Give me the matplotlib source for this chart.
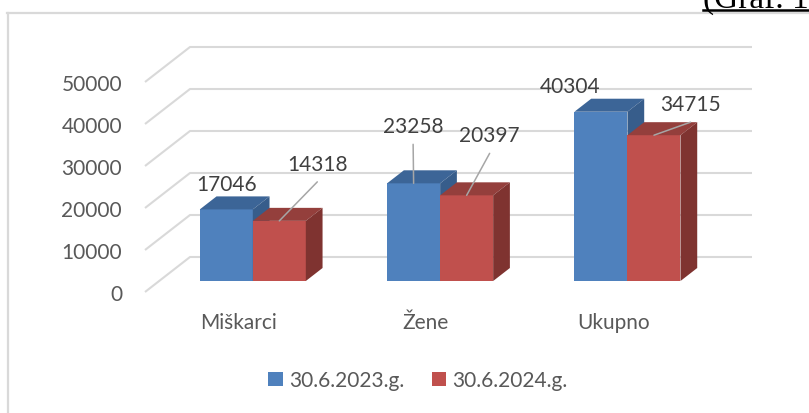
import matplotlib
matplotlib.use("Agg")
import matplotlib.pyplot as plt
from matplotlib.patches import Patch
from matplotlib.lines import Line2D

# ---- data ----
categories = ["Miškarci", "Žene", "Ukupno"]
series_names = ["30.6.2023.g.", "30.6.2024.g."]
values_2023 = [17046, 23258, 40304]
values_2024 = [14318, 20397, 34715]
y_ticks = [0, 10000, 20000, 30000, 40000, 50000]

# ---- styles ----
W, H = 809, 414
FONT = "Lato"
FS = 15
TICK_COL = "#595959"
LABEL_COL = "#404040"
GRID_COL = "#d9d9d9"
face_cols = {
    0: ("#4f81bd", "#3c6597", "#375d8b"),   # front, top, side
    1: ("#c0504d", "#943f3c", "#7f3330"),
}

fig = plt.figure(figsize=(W / 100, H / 100), dpi=100)
# axes = front plane of the floor (pixels 145..707 x, 293..83 y)
ax_l, ax_r, ax_t, ax_b = 145, 707, 83, 293
ax = fig.add_axes([ax_l / W, (H - ax_b) / H, (ax_r - ax_l) / W, (ax_b - ax_t) / H])
ncat = len(categories)
vmax = y_ticks[-1]
ax.set_xlim(0, ncat)
ax.set_ylim(0, vmax)
for s in ax.spines.values():
    s.set_visible(False)

px_x = (ax_r - ax_l) / ncat       # pixels per category unit
px_y = (ax_b - ax_t) / vmax       # pixels per value unit
DXd = 45 / px_x                   # full depth offset in data units
DYd = 35 / px_y
t1, t2 = 0.314, 0.686             # bar front / back depth fraction
bw = 0.283                        # bar width (category units)

def P(x, v, t):
    return (x + t * DXd, v + t * DYd)

# gridlines (side wall diagonal + back wall)
for v in y_ticks:
    a = P(0, v, 0); b = P(0, v, 1); c = P(ncat, v, 1)
    ax.plot([a[0], b[0], c[0]], [a[1], b[1], c[1]], color=GRID_COL, lw=1.5,
            clip_on=False, zorder=1, solid_capstyle="butt")

# bars
tops = {}
for i in range(ncat):
    for s, vals in enumerate([values_2023, values_2024]):
        v = vals[i]
        x0 = i + 0.5 - bw + s * bw
        x1 = x0 + bw
        fc, tc, sc = face_cols[s]
        z = 3 + i * 2 + s
        ax.bar(x0 + t1 * DXd, v, width=bw, bottom=t1 * DYd, align="edge",
               color=fc, edgecolor="none", zorder=z, clip_on=False)
        top = [P(x0, v, t1), P(x1, v, t1), P(x1, v, t2), P(x0, v, t2)]
        side = [P(x1, 0, t1), P(x1, v, t1), P(x1, v, t2), P(x1, 0, t2)]
        ax.fill([p[0] for p in top], [p[1] for p in top], color=tc, lw=0, zorder=z, clip_on=False)
        ax.fill([p[0] for p in side], [p[1] for p in side], color=sc, lw=0, zorder=z, clip_on=False)
        tops[(s, i)] = P((x0 + x1) / 2, v, t1)

# value labels: offsets in pixels from bar front-top centre, leader flag
label_offsets = {
    (0, 0): (0.5, 25, False), (1, 0): (38, 57, True),
    (0, 1): (-0.5, 57, True), (1, 1): (23, 60, True),
    (0, 2): (-30.5, 26, False), (1, 2): (36.5, 31, True),
}
for s, vals in enumerate([values_2023, values_2024]):
    for i, v in enumerate(vals):
        dx, dy, lead = label_offsets[(s, i)]
        xy = tops[(s, i)]
        ax.annotate(f"{v}", xy=xy, xytext=(dx, dy), textcoords="offset pixels",
                    ha="center", va="center", fontsize=FS, family=FONT,
                    color=LABEL_COL, zorder=20, annotation_clip=False)
        if lead:
            ax.annotate("", xy=xy, xytext=(dx, dy - 18), textcoords="offset pixels",
                        arrowprops=dict(arrowstyle="-", color="#a6a6a6", lw=1.1,
                                        shrinkA=0, shrinkB=0),
                        zorder=20, annotation_clip=False)

# axes ticks
ax.set_yticks(y_ticks)
ax.set_yticklabels([str(t) for t in y_ticks])
ax.set_xticks([i + 0.5 for i in range(ncat)])
ax.set_xticklabels(categories)
ax.tick_params(axis="y", length=0, pad=16.5, labelsize=FS, labelcolor=TICK_COL)
ax.tick_params(axis="x", length=0, pad=14.5, labelsize=FS, labelcolor=TICK_COL)
for lab in ax.get_xticklabels() + ax.get_yticklabels():
    lab.set_family(FONT)

# legend
handles = [Patch(facecolor=face_cols[s][0], edgecolor="none") for s in range(2)]
leg = fig.legend(handles, series_names, loc="center", bbox_to_anchor=(418 / W, 1 - 381 / H),
                 ncol=2, frameon=False, handlelength=0.7, handleheight=0.66,
                 handletextpad=0.3, columnspacing=1.3,
                 prop={"family": FONT, "size": FS})
for t in leg.get_texts():
    t.set_color(TICK_COL)

# chart border (left and top) and caption fragment
fig.add_artist(Line2D([8 / W, 8 / W], [0, 1 - 13.5 / H], transform=fig.transFigure,
                      color="#d9d9d9", lw=1.6))
fig.add_artist(Line2D([7.2 / W, 1], [1 - 13.5 / H, 1 - 13.5 / H], transform=fig.transFigure,
                      color="#d9d9d9", lw=1.6))
fig.text(703 / W, 1 - 8 / H, "(Graf. 1.", family="Liberation Serif", fontsize=24,
         ha="left", va="baseline", color="black")
fig.add_artist(Line2D([703 / W, 1], [1 - 10.5 / H, 1 - 10.5 / H], transform=fig.transFigure,
                      color="black", lw=1.8))

fig.savefig("out.png", dpi=100)
